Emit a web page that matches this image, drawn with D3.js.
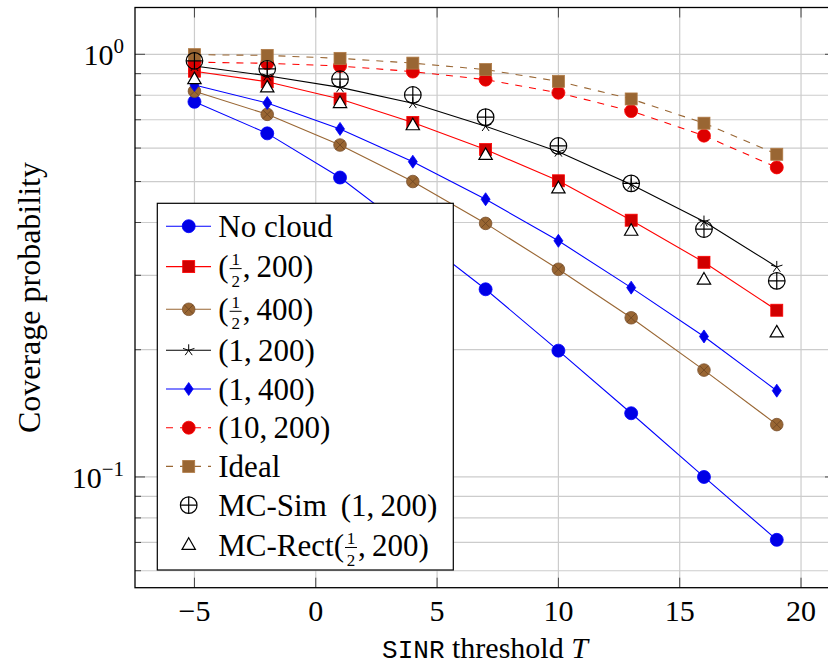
<!DOCTYPE html>
<html>
<head>
<meta charset="utf-8">
<script src="https://cdn.jsdelivr.net/npm/d3@7"></script>
<style>
  body { margin: 0; background: #fff; }
  svg { display: block; }
  text { font-family: "Liberation Serif", "Times New Roman", serif; fill: #000; }
</style>
</head>
<body>
<svg id="chart" width="828" height="668"></svg>
<script>
// SINR thresholds (dB)
const thresholds = [-5, -2, 1, 4, 7, 10, 13, 16, 19];

// coverage probability per curve
const noCloud  = [0.772, 0.650, 0.511, 0.378, 0.278, 0.199, 0.1415, 0.100, 0.0710];
const half200  = [0.912, 0.861, 0.784, 0.690, 0.595, 0.502, 0.405, 0.322, 0.248];
const half400  = [0.818, 0.721, 0.610, 0.500, 0.398, 0.310, 0.238, 0.179, 0.133];
const one200   = [0.938, 0.890, 0.835, 0.766, 0.676, 0.588, 0.492, 0.402, 0.314];
const one400   = [0.846, 0.767, 0.666, 0.557, 0.454, 0.362, 0.2805, 0.215, 0.160];
const ten200   = [0.958, 0.952, 0.938, 0.910, 0.871, 0.811, 0.734, 0.642, 0.540];
const ideal    = [0.998, 0.994, 0.978, 0.953, 0.920, 0.863, 0.784, 0.687, 0.580];
const mcSim    = [0.965, 0.924, 0.873, 0.801, 0.710, 0.607, 0.495, 0.386, 0.291];
const mcRect   = [0.870, 0.832, 0.764, 0.677, 0.576, 0.480, 0.381, 0.292, 0.219];

const xTicks = [-5, 0, 5, 10, 15, 20];
const yTicks = [0.1, 1];

// legend labels: pre = text before fraction, frac = numerator/denominator, post = after
const series = [
  { label: { pre: "No cloud" },                          values: noCloud, mark: "circle",   line: "#0000ff", fill: "#0000e6", dash: null },
  { label: { pre: "(", frac: ["1", "2"], post: ",\u2009200)" }, values: half200, mark: "square",   line: "#ff0000", fill: "#d00000", dash: null },
  { label: { pre: "(", frac: ["1", "2"], post: ",\u2009400)" }, values: half400, mark: "otimes",   line: "#996633", fill: "#996633", dash: null },
  { label: { pre: "(1,\u2009200)" },                      values: one200,  mark: "star",     line: "#000000", fill: "#000000", dash: null },
  { label: { pre: "(1,\u2009400)" },                      values: one400,  mark: "diamond",  line: "#0000ff", fill: "#0000e6", dash: null },
  { label: { pre: "(10,\u2009200)" },                     values: ten200,  mark: "circle",   line: "#ff0000", fill: "#dd0000", dash: "7,7" },
  { label: { pre: "Ideal" },                              values: ideal,   mark: "square",   line: "#996633", fill: "#996633", dash: "7,7" },
  { label: { pre: "MC-Sim \u2009(1,\u2009200)" },         values: mcSim,   mark: "oplus",    line: null,      fill: "none",    dash: null },
  { label: { pre: "MC-Rect(", frac: ["1", "2"], post: ",\u2009200)" }, values: mcRect, mark: "triangle", line: null, fill: "#fff", dash: null }
];

const svg = d3.select("#chart");
const plot = { left: 135, right: 835, top: 7.5, bottom: 587.7 };

const x = d3.scaleLinear().domain([-7.45, 21.4]).range([plot.left, plot.right]);
const y = d3.scaleLog().domain([Math.pow(10, -1.262), Math.pow(10, 0.1107)]).range([plot.bottom, plot.top]);

// grid
const minorY = [];
[0.01, 0.1].forEach(dec => { for (let k = 2; k <= 9; k++) minorY.push(dec * k); });
const yMinor = minorY.filter(v => v > y.domain()[0] && v < y.domain()[1]);

const grid = svg.append("g").attr("stroke", "#cccccc").attr("stroke-width", 1.2);
xTicks.forEach(t => grid.append("line").attr("x1", x(t)).attr("x2", x(t)).attr("y1", plot.top).attr("y2", plot.bottom));
yMinor.concat(yTicks).forEach(v => grid.append("line").attr("x1", plot.left).attr("x2", plot.right).attr("y1", y(v)).attr("y2", y(v)));

// ticks on all four sides, pointing inward
const ticks = svg.append("g").attr("stroke", "#444").attr("stroke-width", 1);
xTicks.forEach(t => {
  ticks.append("line").attr("x1", x(t)).attr("x2", x(t)).attr("y1", plot.bottom).attr("y2", plot.bottom - 10);
  ticks.append("line").attr("x1", x(t)).attr("x2", x(t)).attr("y1", plot.top).attr("y2", plot.top + 10);
});
yTicks.forEach(v => {
  ticks.append("line").attr("x1", plot.left).attr("x2", plot.left + 10).attr("y1", y(v)).attr("y2", y(v));
  ticks.append("line").attr("x1", plot.right).attr("x2", plot.right - 10).attr("y1", y(v)).attr("y2", y(v));
});
yMinor.forEach(v => {
  ticks.append("line").attr("x1", plot.left).attr("x2", plot.left + 6).attr("y1", y(v)).attr("y2", y(v));
  ticks.append("line").attr("x1", plot.right).attr("x2", plot.right - 6).attr("y1", y(v)).attr("y2", y(v));
});

// frame
svg.append("rect")
  .attr("x", plot.left).attr("y", plot.top)
  .attr("width", plot.right - plot.left).attr("height", plot.bottom - plot.top)
  .attr("fill", "none").attr("stroke", "#000").attr("stroke-width", 1.3);

// tick labels
svg.append("g").selectAll("text").data(xTicks).enter().append("text")
  .attr("x", t => x(t)).attr("y", 621)
  .attr("text-anchor", "middle").style("font-size", "30px")
  .text(t => t < 0 ? "\u2212" + Math.abs(t) : t);

yTicks.forEach(v => {
  const exp = Math.round(Math.log10(v));
  const t = svg.append("text").attr("x", 124).attr("y", y(v) + 11).attr("text-anchor", "end").style("font-size", "30px");
  t.append("tspan").text("10");
  t.append("tspan").attr("dy", -12).style("font-size", "21px").text(exp < 0 ? "\u2212" + Math.abs(exp) : exp);
});

// axis titles
const xl = svg.append("text").attr("x", 485).attr("y", 658).attr("text-anchor", "middle").style("font-size", "30px");
xl.append("tspan").style("font-family", "'Liberation Mono', monospace").style("font-size", "26px").text("SINR");
xl.append("tspan").text(" threshold ");
xl.append("tspan").style("font-style", "italic").text("T");

svg.append("text")
  .attr("transform", "translate(40," + ((plot.top + plot.bottom) / 2) + ") rotate(-90)")
  .attr("text-anchor", "middle").style("font-size", "32px")
  .text("Coverage probability");

// markers
function drawMark(g, type, cx, cy, s) {
  const m = g.append("g").attr("transform", "translate(" + cx + "," + cy + ")");
  if (type === "circle") {
    m.append("circle").attr("r", 6.5).attr("fill", s.fill).attr("stroke", s.line).attr("stroke-width", 0.8);
  } else if (type === "square") {
    m.append("rect").attr("x", -6).attr("y", -6).attr("width", 12).attr("height", 12)
      .attr("fill", s.fill).attr("stroke", s.line === "#996633" ? "#b07a45" : s.line).attr("stroke-width", 0.8);
  } else if (type === "otimes") {
    m.append("circle").attr("r", 6.3).attr("fill", s.fill).attr("stroke", "#7a5230").attr("stroke-width", 0.8);
    const d = 4.4;
    m.append("path").attr("d", `M${-d},${-d}L${d},${d}M${-d},${d}L${d},${-d}`).attr("stroke", "#6b4422").attr("stroke-width", 0.8);
  } else if (type === "star") {
    let p = "";
    for (let k = 0; k < 5; k++) {
      const a = -Math.PI / 2 + k * 2 * Math.PI / 5;
      p += `M0,0L${6 * Math.cos(a)},${6 * Math.sin(a)}`;
    }
    m.append("path").attr("d", p).attr("stroke", "#000").attr("stroke-width", 1);
  } else if (type === "diamond") {
    m.append("path").attr("d", "M0,-6.5L4.5,0L0,6.5L-4.5,0Z").attr("fill", s.fill).attr("stroke", s.line).attr("stroke-width", 0.8);
  } else if (type === "oplus") {
    m.append("circle").attr("r", 8.3).attr("fill", "none").attr("stroke", "#000").attr("stroke-width", 1.2);
    m.append("path").attr("d", "M-8.3,0L8.3,0M0,-8.3L0,8.3").attr("stroke", "#000").attr("stroke-width", 1.2);
  } else if (type === "triangle") {
    const r = 7.7;
    m.append("path")
      .attr("d", `M0,${-r}L${r * 0.866},${r / 2}L${-r * 0.866},${r / 2}Z`)
      .attr("fill", "#fff").attr("stroke", "#000").attr("stroke-width", 1.2);
  }
}

const lineGen = d3.line().x(d => x(d[0])).y(d => y(d[1]));
const layer = svg.append("g");
series.forEach(s => {
  const pts = thresholds.map((t, i) => [t, s.values[i]]);
  if (s.line) {
    layer.append("path").datum(pts).attr("d", lineGen)
      .attr("fill", "none").attr("stroke", s.line).attr("stroke-width", 1.1)
      .attr("stroke-dasharray", s.dash);
  }
  pts.forEach(p => drawMark(layer, s.mark, x(p[0]), y(p[1]), s));
});

// legend
const lg = svg.append("g");
lg.append("rect").attr("x", 157.3).attr("y", 203.3).attr("width", 296).attr("height", 366.7)
  .attr("fill", "#fff").attr("stroke", "#000").attr("stroke-width", 1.2);

let rowY = 226.2;
series.forEach((s, i) => {
  if (i > 0) rowY += 38.7 + (series[i - 1].label.frac ? 2.3 : 0) + (s.label.frac ? 1.7 : 0);
  if (s.line) {
    lg.append("line").attr("x1", 166).attr("x2", 211).attr("y1", rowY).attr("y2", rowY)
      .attr("stroke", s.line).attr("stroke-width", 1.1).attr("stroke-dasharray", s.dash);
  }
  drawMark(lg, s.mark, 188.7, rowY, s);

  const base = rowY + 10.5;
  const x0 = 218.3;
  const t = lg.append("text").attr("x", x0).attr("y", base).style("font-size", "31px");
  const pre = t.append("tspan").text(s.label.pre);
  if (s.label.frac) {
    // stacked fraction kept inside the same text element
    const w = pre.node().getComputedTextLength();
    const fw = 12;
    const cx = x0 + w + 1 + fw / 2;
    t.append("tspan").attr("x", cx).attr("y", base - 12).attr("text-anchor", "middle")
      .style("font-size", "17px").text(s.label.frac[0]);
    t.append("tspan").attr("x", cx).attr("y", base + 9.5).attr("text-anchor", "middle")
      .style("font-size", "17px").text(s.label.frac[1]);
    t.append("tspan").attr("x", x0 + w + fw + 2).attr("y", base).attr("text-anchor", "start").text(s.label.post);
    lg.append("line").attr("x1", x0 + w + 1).attr("x2", x0 + w + 1 + fw).attr("y1", base - 8.5).attr("y2", base - 8.5)
      .attr("stroke", "#000").attr("stroke-width", 1);
  }
});
</script>
</body>
</html>
